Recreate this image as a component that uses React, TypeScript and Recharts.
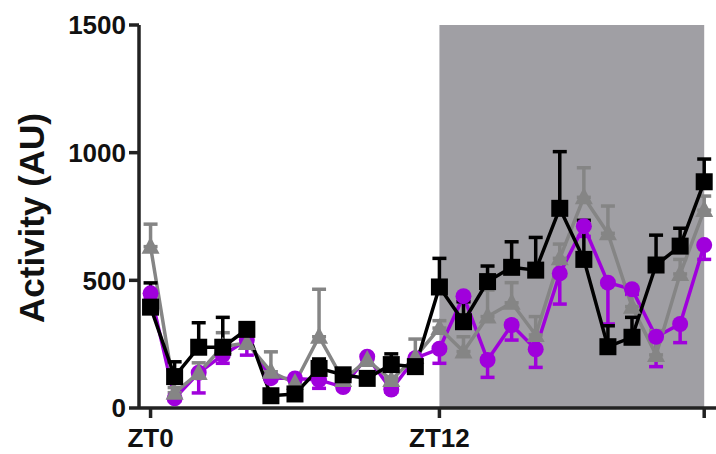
import React from 'react';
import { LineChart, Line, XAxis, YAxis, ErrorBar, ReferenceArea } from 'recharts';

const hours = [0, 1, 2, 3, 4, 5, 6, 7, 8, 9, 10, 11, 12, 13, 14, 15, 16, 17, 18, 19, 20, 21, 22, 23];
const blackVals = [395, 123, 238, 238, 308, 48, 55, 155, 130, 116, 170, 162, 474, 338, 495, 551, 540, 782, 582, 240, 277, 560, 634, 886];
const blackErrUp = [95, 58, 96, 117, 10, 10, 10, 37, 10, 10, 42, 10, 112, 78, 61, 100, 128, 222, 153, 82, 78, 117, 70, 89];
const greyVals = [632, 60, 137, 240, 255, 142, 98, 279, 110, 188, 110, 200, 313, 221, 358, 412, 286, 586, 825, 684, 397, 208, 525, 775];
const greyErrUp = [88, 20, 40, 55, 10, 78, 10, 186, 10, 10, 10, 70, 29, 58, 104, 79, 72, 56, 116, 107, 65, 95, 57, 55];
const purpleVals = [449, 38, 138, 207, 266, 117, 116, 110, 82, 201, 72, 195, 232, 438, 188, 325, 230, 527, 712, 491, 465, 279, 329, 638];
const purpleErrDown = [20, 10, 79, 32, 59, 10, 10, 33, 10, 10, 10, 10, 57, 20, 68, 59, 71, 120, 40, 162, 20, 117, 73, 56];
const yTicks = [0, 500, 1000, 1500];
const xTicks = [0, 12, 23];
const xTickLabels: Record<number, string> = { 0: 'ZT0', 12: 'ZT12', 23: '' };
const darkStart = 12;
const darkEnd = 23;

const data = hours.map((h, i) => ({
  h,
  black: blackVals[i],
  blackErr: [0, blackErrUp[i]],
  grey: greyVals[i],
  greyErr: [0, greyErrUp[i]],
  purple: purpleVals[i],
  purpleErr: [purpleErrDown[i], 0],
}));

const PURPLE = '#a000dc';
const GREY = '#858585';
const BLACK = '#000000';
const FONT = '"Liberation Sans", Arial, sans-serif';

const Circle = (p: any) => (
  <circle key={p.key} cx={p.cx} cy={p.cy} r={8} fill={PURPLE} />
);
const Tri = (p: any) => (
  <polygon
    key={p.key}
    points={`${p.cx},${p.cy - 10} ${p.cx - 9},${p.cy + 7} ${p.cx + 9},${p.cy + 7}`}
    fill={GREY}
  />
);
const Sq = (p: any) => (
  <rect key={p.key} x={p.cx - 8.5} y={p.cy - 8.5} width={17} height={17} fill={BLACK} />
);

const YLabel = () => (
  <text
    x={44}
    y={218}
    transform="rotate(-90 44 218)"
    textAnchor="middle"
    fontFamily={FONT}
    fontWeight="bold"
    fontSize={35}
    fill="#111"
  >
    Activity (AU)
  </text>
);

export default function App() {
  return (
    <div style={{ position: 'absolute', left: 0, top: 0, width: 716, height: 454, background: '#fff' }}>
      <LineChart width={716} height={454} data={data} margin={{ top: 25, right: 0, bottom: 0, left: 0 }}>
        <ReferenceArea x1={darkStart} x2={darkEnd} y1={0} y2={1500} fill="#a09fa4" fillOpacity={1} stroke="none" ifOverflow="visible" />
        <XAxis
          dataKey="h"
          type="number"
          domain={[-0.48, 23.49]}
          ticks={xTicks}
          tickFormatter={(v: number) => xTickLabels[v] ?? ''}
          height={46}
          stroke="#222"
          strokeWidth={3.5}
          tickSize={10}
          tickMargin={11}
          tick={{ fontFamily: FONT, fontWeight: 'bold', fontSize: 26, fill: '#111' }}
          allowDataOverflow
        />
        <YAxis
          type="number"
          domain={[0, 1500]}
          ticks={yTicks}
          width={139}
          stroke="#222"
          strokeWidth={3.5}
          tickSize={10}
          tickMargin={3}
          tick={{ fontFamily: FONT, fontWeight: 'bold', fontSize: 26, fill: '#111' }}
          label={<YLabel />}
          allowDataOverflow
        />
        <Line dataKey="purple" stroke={PURPLE} strokeWidth={3.5} dot={Circle} activeDot={false} isAnimationActive={false}>
          <ErrorBar dataKey="purpleErr" direction="y" stroke={PURPLE} strokeWidth={3.5} width={7} />
        </Line>
        <Line dataKey="grey" stroke={GREY} strokeWidth={3.5} dot={Tri} activeDot={false} isAnimationActive={false}>
          <ErrorBar dataKey="greyErr" direction="y" stroke={GREY} strokeWidth={3.5} width={7} />
        </Line>
        <Line dataKey="black" stroke={BLACK} strokeWidth={3.5} dot={Sq} activeDot={false} isAnimationActive={false}>
          <ErrorBar dataKey="blackErr" direction="y" stroke={BLACK} strokeWidth={3.5} width={7} />
        </Line>
      </LineChart>
    </div>
  );
}
